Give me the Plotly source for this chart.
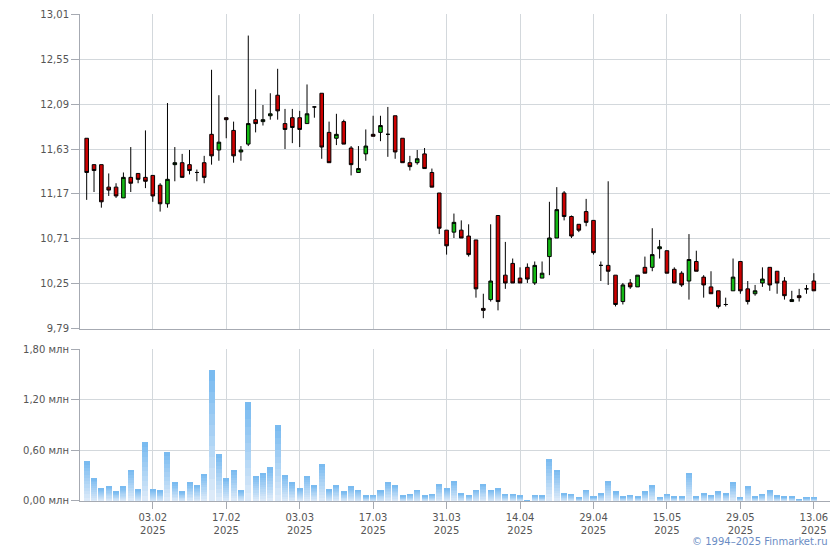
import plotly.graph_objects as go

# ---- data ----
opens = [11.74, 11.47, 11.47, 11.24, 11.24, 11.13, 11.34, 11.38, 11.34, 11.36,
         11.26, 11.07, 11.47, 11.49, 11.47, 11.39, 11.49, 11.78, 11.62, 11.95,
         11.82, 11.60, 11.68, 11.93, 11.91, 11.97, 12.18, 11.89, 11.95, 11.95,
         11.89, 12.06, 12.20, 11.80, 11.74, 11.91, 11.64, 11.39, 11.58, 11.78,
         11.80, 11.78, 11.97, 11.74, 11.49, 11.49, 11.58, 11.39, 11.18, 10.80,
         10.78, 10.80, 10.74, 10.70, 10.00, 10.09, 10.95, 10.34, 10.46, 10.31,
         10.42, 10.26, 10.31, 10.53, 10.72, 11.18, 10.94, 10.86, 10.99, 10.90,
         10.44, 10.44, 10.34, 10.07, 10.26, 10.22, 10.42, 10.42, 10.61, 10.59,
         10.40, 10.36, 10.28, 10.48, 10.32, 10.22, 10.18, 10.04, 10.18, 10.48,
         10.20, 10.15, 10.26, 10.42, 10.38, 10.28, 10.07, 10.13, 10.20, 10.28]
highs = [11.74, 11.47, 11.47, 11.38, 11.28, 11.39, 11.65, 11.38, 11.82, 11.36,
         11.28, 12.10, 11.65, 11.58, 11.62, 11.42, 11.56, 12.44, 12.18, 11.95,
         11.91, 11.66, 12.79, 12.24, 12.08, 12.20, 12.45, 12.04, 12.04, 12.02,
         12.29, 12.06, 12.20, 11.91, 11.99, 11.93, 11.66, 11.66, 11.83, 11.97,
         11.97, 12.06, 11.97, 11.74, 11.56, 11.62, 11.64, 11.43, 11.18, 10.80,
         10.97, 10.90, 10.86, 10.70, 10.15, 10.86, 10.95, 10.68, 10.51, 10.42,
         10.46, 10.48, 10.48, 11.09, 11.24, 11.20, 10.95, 10.86, 11.12, 10.90,
         10.48, 11.30, 10.34, 10.26, 10.30, 10.34, 10.53, 10.82, 10.70, 10.59,
         10.42, 10.38, 10.76, 10.59, 10.34, 10.38, 10.18, 10.11, 10.51, 10.48,
         10.28, 10.24, 10.42, 10.42, 10.38, 10.32, 10.18, 10.20, 10.24, 10.36]
lows = [11.11, 11.19, 11.03, 11.15, 11.13, 11.13, 11.19, 11.28, 11.23, 11.09,
        10.99, 11.03, 11.30, 11.34, 11.37, 11.30, 11.28, 11.47, 11.51, 11.74,
        11.49, 11.51, 11.66, 11.80, 11.87, 11.93, 11.93, 11.63, 11.69, 11.65,
        11.89, 11.95, 11.53, 11.49, 11.67, 11.68, 11.36, 11.39, 11.51, 11.76,
        11.71, 11.55, 11.53, 11.49, 11.41, 11.47, 11.43, 11.24, 10.76, 10.55,
        10.72, 10.72, 10.53, 10.11, 9.90, 10.07, 9.98, 10.20, 10.26, 10.26,
        10.26, 10.24, 10.31, 10.34, 10.72, 10.90, 10.72, 10.78, 10.84, 10.55,
        10.28, 10.24, 10.02, 10.04, 10.20, 10.22, 10.36, 10.38, 10.51, 10.36,
        10.26, 10.22, 10.09, 10.38, 10.11, 10.15, 10.00, 10.02, 10.18, 10.15,
        10.04, 10.13, 10.22, 10.18, 10.15, 10.09, 10.07, 10.07, 10.15, 10.18]
closes = [11.39, 11.41, 11.09, 11.21, 11.15, 11.34, 11.28, 11.32, 11.30, 11.15,
          11.07, 11.32, 11.49, 11.34, 11.41, 11.39, 11.34, 11.56, 11.70, 11.93,
          11.56, 11.62, 11.89, 11.89, 11.93, 11.99, 12.02, 11.83, 11.85, 11.83,
          11.99, 12.06, 11.65, 11.49, 11.78, 11.68, 11.47, 11.43, 11.66, 11.76,
          11.87, 11.78, 11.60, 11.49, 11.45, 11.53, 11.43, 11.24, 10.82, 10.64,
          10.88, 10.72, 10.55, 10.20, 9.98, 10.28, 10.07, 10.26, 10.26, 10.26,
          10.30, 10.44, 10.36, 10.72, 11.01, 10.94, 10.74, 10.80, 10.88, 10.57,
          10.44, 10.38, 10.04, 10.24, 10.22, 10.34, 10.36, 10.55, 10.63, 10.36,
          10.26, 10.24, 10.50, 10.38, 10.24, 10.15, 10.02, 10.04, 10.32, 10.18,
          10.07, 10.18, 10.30, 10.24, 10.26, 10.13, 10.09, 10.11, 10.20, 10.18]
volumes = [0.47, 0.27, 0.15, 0.18, 0.11, 0.17, 0.37, 0.14, 0.70, 0.14,
           0.12, 0.58, 0.22, 0.11, 0.22, 0.19, 0.32, 1.55, 0.56, 0.27,
           0.37, 0.12, 1.17, 0.30, 0.33, 0.40, 0.90, 0.31, 0.22, 0.15,
           0.30, 0.19, 0.44, 0.14, 0.19, 0.11, 0.17, 0.13, 0.06, 0.07,
           0.12, 0.22, 0.19, 0.06, 0.08, 0.13, 0.06, 0.08, 0.20, 0.15,
           0.24, 0.09, 0.07, 0.13, 0.20, 0.13, 0.15, 0.08, 0.08, 0.06,
           0.01, 0.07, 0.06, 0.50, 0.37, 0.09, 0.08, 0.04, 0.13, 0.05,
           0.09, 0.24, 0.11, 0.05, 0.07, 0.05, 0.11, 0.19, 0.04, 0.08,
           0.05, 0.05, 0.33, 0.05, 0.09, 0.07, 0.11, 0.09, 0.22, 0.04,
           0.18, 0.05, 0.08, 0.12, 0.06, 0.05, 0.05, 0.02, 0.04, 0.04]

tick_positions = [9, 19, 29, 39, 49, 59, 69, 79, 89, 99]
tick_dates = ["03.02", "17.02", "03.03", "17.03", "31.03",
              "14.04", "29.04", "15.05", "29.05", "13.06"]
tick_year = "2025"
price_ticks = [9.79, 10.25, 10.71, 11.17, 11.63, 12.09, 12.55, 13.01]
volume_ticks = [0.0, 0.6, 1.2, 1.8]

# ---- figure ----
x = list(range(len(opens)))
GRID = "#d3d8dc"
AXIS = "#a6aab2"
TXT = "#555555"
FONT = "DejaVu Sans"

fig = go.Figure()
fig.add_trace(go.Candlestick(
    x=x, open=opens, high=highs, low=lows, close=closes,
    increasing=dict(fillcolor="#14b814", line=dict(color="#000000", width=1)),
    decreasing=dict(fillcolor="#cc0000", line=dict(color="#000000", width=1)),
    whiskerwidth=0, xaxis="x", yaxis="y", showlegend=False, hoverinfo="skip"))

# gradient-looking volume bars: each bar split into stacked slices
N = 12
top_c = (0x76, 0xb9, 0xf0)
bot_c = (0xe0, 0xec, 0xf9)
for k in range(N):
    t = (k + 0.5) / N
    c = tuple(round(bot_c[j] + (top_c[j] - bot_c[j]) * t) for j in range(3))
    fig.add_trace(go.Bar(
        x=x, y=[v / N for v in volumes],
        marker=dict(color="rgb(%d,%d,%d)" % c, line=dict(width=0)),
        xaxis="x2", yaxis="y2", showlegend=False, hoverinfo="skip"))

fig.update_layout(
    width=840, height=550,
    margin=dict(l=80, r=10, t=14, b=49, autoexpand=False),
    paper_bgcolor="white", plot_bgcolor="white",
    barmode="stack", bargap=0.18,
    font=dict(family=FONT, size=10, color=TXT),
    xaxis=dict(domain=[0, 1], range=[-0.91, 101.2], anchor="y", automargin=False,
               tickmode="array", tickvals=tick_positions, showticklabels=False,
               showgrid=True, gridcolor=GRID, gridwidth=1,
               showline=True, linecolor=AXIS, linewidth=1,
               zeroline=False, ticks="", rangeslider=dict(visible=False)),
    yaxis=dict(domain=[0.3532, 1], range=[9.79 - 0.0005, 13.01 + 0.0005],
               automargin=False,
               tickmode="array", tickvals=price_ticks,
               ticktext=[("%.2f" % v).replace(".", ",") for v in price_ticks],
               showgrid=True, gridcolor=GRID, gridwidth=1,
               showline=True, linecolor=AXIS, linewidth=1,
               ticks="outside", ticklen=8, tickcolor=AXIS, zeroline=False),
    xaxis2=dict(domain=[0, 1], range=[-0.91, 101.2], anchor="y2", matches="x",
                automargin=False,
                tickmode="array", tickvals=tick_positions,
                ticktext=[d + "<br>" + tick_year for d in tick_dates],
                showgrid=True, gridcolor=GRID, gridwidth=1,
                showline=True, linecolor=AXIS, linewidth=1,
                ticks="outside", ticklen=7, tickcolor=AXIS, zeroline=False),
    yaxis2=dict(domain=[0, 0.3121], range=[0, 1.8 + 0.0005], automargin=False,
                tickmode="array", tickvals=volume_ticks,
                ticktext=[("%.2f" % v).replace(".", ",") + " млн" for v in volume_ticks],
                showgrid=True, gridcolor=GRID, gridwidth=1,
                showline=True, linecolor=AXIS, linewidth=1,
                ticks="outside", ticklen=8, tickcolor=AXIS, zeroline=False),
    annotations=[dict(text="© 1994–2025 Finmarket.ru", xref="paper", yref="paper",
                      x=1.0, y=-0.084, xanchor="right", yanchor="middle",
                      showarrow=False, font=dict(family=FONT, size=10, color="#6a8cc4"))],
)

fig.write_html("out.html", config={"displayModeBar": False},
               post_script="document.body.style.margin='0';document.body.style.overflow='hidden';")
